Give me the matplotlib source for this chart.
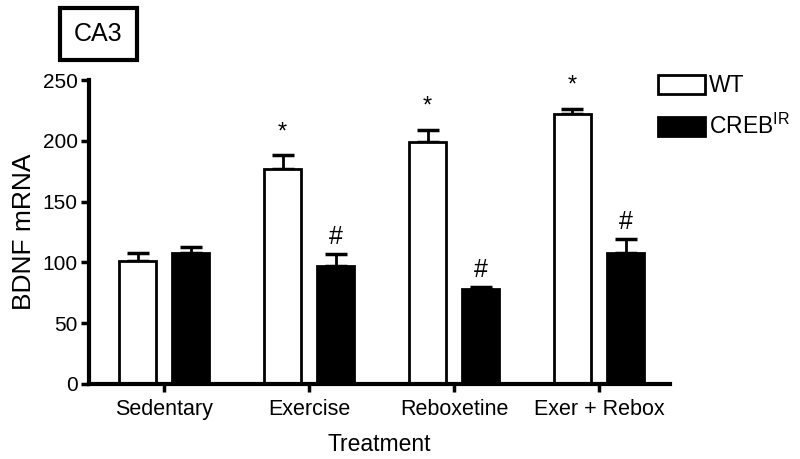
import matplotlib
matplotlib.use("Agg")
import matplotlib.pyplot as plt
import numpy as np
from matplotlib.patches import Rectangle

plt.rcParams['font.family'] = ['Liberation Sans', 'DejaVu Sans']

categories = ["Sedentary", "Exercise", "Reboxetine", "Exer + Rebox"]
wt_mean = [101, 177, 199, 222]
wt_err = [7, 11, 10, 4]
creb_mean = [108, 97, 78, 108]
creb_err = [5, 10, 2, 11]
wt_marks = ["", "*", "*", "*"]
creb_marks = ["", "#", "#", "#"]
y_ticks = [0, 50, 100, 150, 200, 250]

fig = plt.figure(figsize=(8, 4.59), dpi=100)
ax = fig.add_axes([0.111, 0.1634, 0.7265, 0.6623])

x = np.arange(len(categories))
w = 0.255
off = 0.183
ax.bar(x - off, wt_mean, w, color='white', edgecolor='black', linewidth=2, zorder=2, label='WT')
ax.bar(x + off, creb_mean, w, color='black', edgecolor='black', linewidth=2, zorder=2, label='CREB$^{\\mathregular{IR}}$')
ax.errorbar(x - off, wt_mean, yerr=[np.zeros(4), wt_err], fmt='none', ecolor='black',
            elinewidth=2, capsize=8, capthick=2.5, zorder=1)
ax.errorbar(x + off, creb_mean, yerr=[np.zeros(4), creb_err], fmt='none', ecolor='black',
            elinewidth=2, capsize=8, capthick=2.5, zorder=1)

for i in range(4):
    if wt_marks[i]:
        ax.text(x[i] - off, wt_mean[i] + wt_err[i] + 10, wt_marks[i], ha='center', va='bottom', fontsize=17)
    if creb_marks[i]:
        ax.text(x[i] + off, creb_mean[i] + creb_err[i] + 4, creb_marks[i], ha='center', va='bottom', fontsize=18)

ax.set_xlim(-0.52, 3.49)
ax.set_ylim(0, 250)
ax.set_yticks(y_ticks)
ax.set_xticks(x)
ax.set_xticklabels(categories, fontsize=15.5)
ax.tick_params(axis='y', labelsize=15, width=2.5, length=6, pad=2)
ax.tick_params(axis='x', width=2.5, length=6, pad=5)
ax.spines['top'].set_visible(False)
ax.spines['right'].set_visible(False)
ax.spines['left'].set_linewidth(3)
ax.spines['bottom'].set_linewidth(3)
ax.set_ylabel("BDNF mRNA", fontsize=19, labelpad=5)
ax.set_xlabel("Treatment", fontsize=16.5, labelpad=9)

leg = ax.legend(loc='upper left', bbox_to_anchor=(0.963, 1.05), frameon=False, fontsize=16.5,
                handlelength=2.05, handleheight=0.9, handletextpad=0.2, labelspacing=0.75, borderaxespad=0)

fig.patches.append(Rectangle((0.075, 0.8693), 0.09625, 0.1133, transform=fig.transFigure,
                             facecolor='white', edgecolor='black', linewidth=3, zorder=5))
fig.text(0.1231, 0.926, "CA3", fontsize=18, ha='center', va='center', zorder=6)

fig.savefig("out.png", dpi=100)
